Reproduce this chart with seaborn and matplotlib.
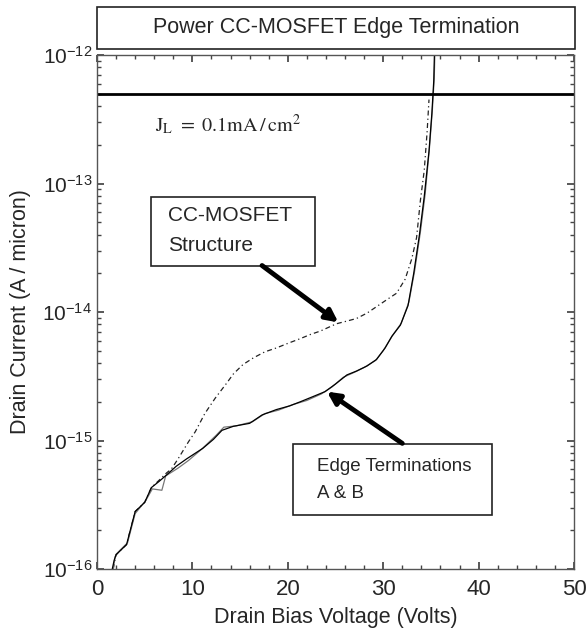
import matplotlib
matplotlib.use("Agg")
import matplotlib.pyplot as plt
import matplotlib.ticker as mticker
from matplotlib.patches import Rectangle
import numpy as np
import pandas as pd
import seaborn as sns

sns.set_theme(style="ticks", context="notebook")
plt.rcParams["font.family"] = ["Liberation Sans", "DejaVu Sans"]
plt.rcParams["mathtext.fontset"] = "stix"

# Edge termination A (solid, black)
volts_a = [1.6, 1.8, 2.0, 3.1, 4.0, 5.0, 5.7, 6.5, 7.3, 8.3, 9.4, 11.1, 12.2, 13.1,
           14.3, 16.0, 17.3, 18.8, 20.2, 21.3, 22.6, 23.9, 25.0, 26.2, 27.2, 28.3,
           29.3, 30.2, 30.9, 31.8, 32.6, 33.2, 33.8, 34.3, 34.8, 35.1, 35.3, 35.4]
current_a = [1.0e-16, 1.17e-16, 1.29e-16, 1.55e-16, 2.8e-16, 3.3e-16, 4.3e-16, 4.8e-16,
             5.4e-16, 6.3e-16, 7.2e-16, 8.7e-16, 1.02e-15, 1.2e-15, 1.29e-15, 1.36e-15,
             1.58e-15, 1.74e-15, 1.86e-15, 2.0e-15, 2.19e-15, 2.4e-15, 2.75e-15, 3.24e-15,
             3.47e-15, 3.8e-15, 4.27e-15, 5.25e-15, 6.46e-15, 7.9e-15, 1.12e-14, 2.0e-14,
             4.0e-14, 7.9e-14, 1.78e-13, 3.5e-13, 6.3e-13, 1.26e-12]

# Edge termination B (solid, grey)
volts_b = [1.7, 1.9, 2.2, 3.2, 4.0, 5.1, 5.8, 6.8, 7.2, 8.5, 9.6, 11.0, 12.5, 13.3,
           14.6, 16.3, 17.6, 19.0, 20.5, 22.0, 23.5, 24.6, 25.8, 27.0, 28.0, 29.2,
           30.0, 31.0, 31.9, 32.7, 33.3, 33.9, 34.4, 34.85, 35.15, 35.35, 35.45]
current_b = [1.0e-16, 1.25e-16, 1.35e-16, 1.6e-16, 2.7e-16, 3.4e-16, 4.2e-16, 4.1e-16,
             5.3e-16, 6.1e-16, 7.0e-16, 8.6e-16, 1.1e-15, 1.27e-15, 1.3e-15, 1.4e-15,
             1.62e-15, 1.72e-15, 1.9e-15, 2.05e-15, 2.3e-15, 2.6e-15, 3.1e-15, 3.4e-15,
             3.7e-15, 4.2e-15, 5.0e-15, 6.6e-15, 8.2e-15, 1.2e-14, 2.1e-14, 4.2e-14,
             8.3e-14, 1.9e-13, 3.7e-13, 6.6e-13, 1.3e-12]

# CC-MOSFET structure (dashed)
volts_cc = [1.7, 2.0, 3.1, 4.0, 5.0, 5.7, 6.5, 7.3, 7.8, 8.5, 9.6, 10.3, 11.3, 12.4,
            13.6, 14.3, 15.3, 16.4, 17.6, 18.8, 20.0, 21.3, 22.4, 23.4, 25.1, 26.2,
            27.2, 28.3, 29.3, 30.4, 31.4, 32.3, 33.0, 33.5, 33.9, 34.3, 34.6, 34.8]
current_cc = [1.0e-16, 1.3e-16, 1.55e-16, 2.8e-16, 3.3e-16, 4.3e-16, 4.9e-16, 5.6e-16,
              6.0e-16, 7.2e-16, 9.8e-16, 1.17e-15, 1.62e-15, 2.14e-15, 2.8e-15, 3.3e-15,
              3.9e-15, 4.4e-15, 4.9e-15, 5.25e-15, 5.7e-15, 6.2e-15, 6.7e-15, 7.1e-15,
              8.1e-15, 8.5e-15, 8.9e-15, 9.8e-15, 1.1e-14, 1.25e-14, 1.4e-14, 1.8e-14,
              2.6e-14, 3.8e-14, 7.4e-14, 1.26e-13, 2.5e-13, 4.5e-13]

jl_level = 5e-13
y_ticks = [1e-16, 1e-15, 1e-14, 1e-13, 1e-12]
x_ticks = [0, 10, 20, 30, 40, 50]

fig = plt.figure(figsize=(5.88, 6.33), dpi=100)
ax = fig.add_axes([97 / 588, 1 - 569 / 633, 477 / 588, 514 / 633])

sns.lineplot(x=volts_cc, y=current_cc, ax=ax, color="#222222", lw=0.9,
             linestyle=(0, (4, 2.5, 1, 2.5)), estimator=None)
sns.lineplot(x=volts_b, y=current_b, ax=ax, color="#777777", lw=0.9, estimator=None)
sns.lineplot(x=volts_a, y=current_a, ax=ax, color="black", lw=0.9, estimator=None)
ax.axhline(jl_level, color="black", lw=2)

ax.set_yscale("log")
ax.set(xlim=(0, 50), ylim=(1e-16, 1e-12))
ax.set_xlabel("Drain Bias Voltage (Volts)", fontsize=15.5, labelpad=5)
ax.set_ylabel("Drain Current (A / micron)", fontsize=15.5, labelpad=8)
ax.xaxis.set_major_locator(mticker.FixedLocator(x_ticks))
ax.xaxis.set_minor_locator(mticker.MultipleLocator(2))
ax.yaxis.set_major_locator(mticker.FixedLocator(y_ticks))
ax.yaxis.set_major_formatter(mticker.LogFormatterSciNotation())
ax.yaxis.set_minor_locator(mticker.LogLocator(base=10, subs=np.arange(2, 10), numticks=10))
ax.yaxis.set_minor_formatter(mticker.NullFormatter())
ax.tick_params(which="both", direction="in", top=True, right=True, color="#444444")
ax.tick_params(axis="x", labelsize=16, pad=7)
ax.tick_params(axis="y", labelsize=15)
ax.tick_params(which="major", length=5)
ax.tick_params(which="minor", length=3)
for s in ax.spines.values():
    s.set_color("#555555")
    s.set_linewidth(1)

ax.text(0.122, 0.864, r"$\mathrm{J_L\ =\ 0.1mA\,/\,cm^2}$", transform=ax.transAxes,
        fontsize=14.5, va="center", ha="left")

# annotation boxes
ax.add_patch(Rectangle((0.113, 0.589), 0.344, 0.135, transform=ax.transAxes,
                       fill=False, lw=1.2, edgecolor="#222222"))
ax.text(0.149, 0.658, "CC-MOSFET\nStructure", transform=ax.transAxes, fontsize=15,
        va="center", ha="left", linespacing=1.75)
ax.add_patch(Rectangle((0.411, 0.105), 0.417, 0.138, transform=ax.transAxes,
                       fill=False, lw=1.2, edgecolor="#222222"))
ax.text(0.461, 0.173, "Edge Terminations\nA & B", transform=ax.transAxes, fontsize=13.5,
        va="center", ha="left", linespacing=1.75)

arrow = dict(arrowstyle="-|>", lw=3.5, color="black", mutation_scale=18, shrinkA=0, shrinkB=0)
ax.annotate("", xy=(25.3, 8.3e-15), xytext=(17.3, 2.3e-14), arrowprops=arrow)
ax.annotate("", xy=(24.1, 2.4e-15), xytext=(32.0, 9.5e-16), arrowprops=arrow)

# title box
fig.patches.append(Rectangle((97 / 588, 1 - 49 / 633), 478 / 588, 42 / 633,
                             transform=fig.transFigure, fill=False, lw=1.2,
                             edgecolor="#222222"))
fig.text(336 / 588, 1 - 28 / 633, "Power CC-MOSFET Edge Termination", fontsize=15.5,
         ha="center", va="center")

fig.savefig("out.png", dpi=100)
